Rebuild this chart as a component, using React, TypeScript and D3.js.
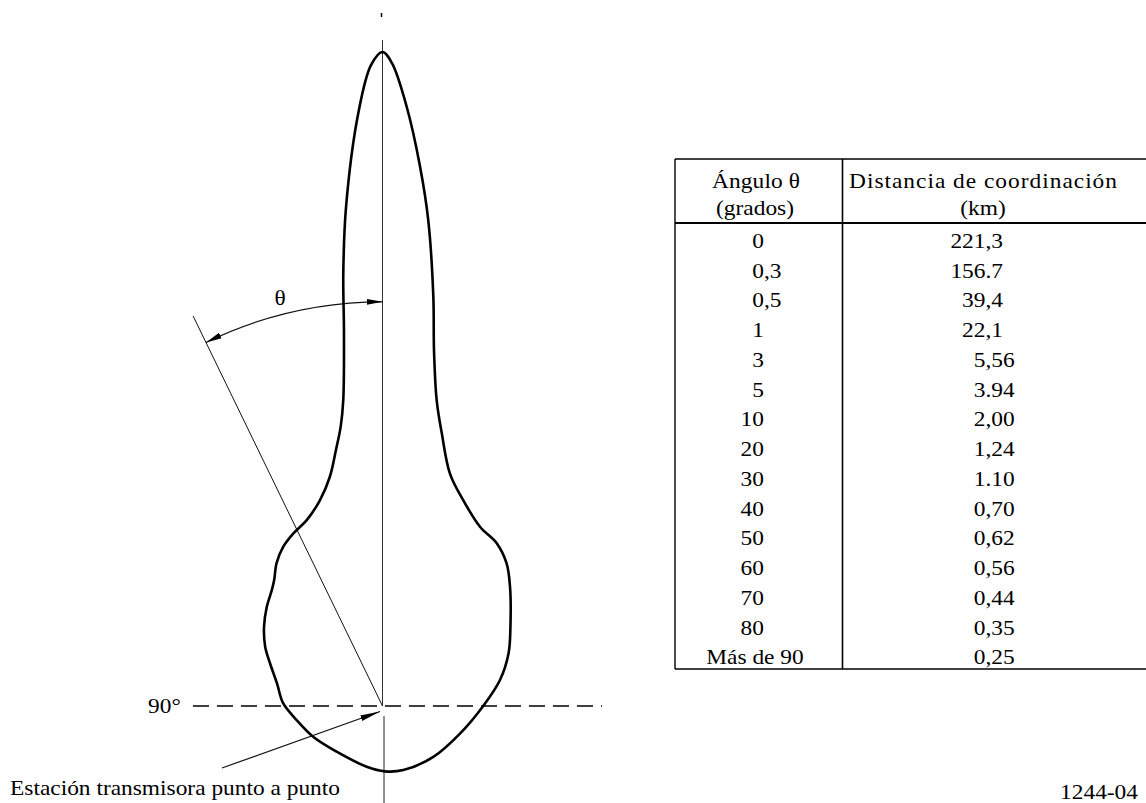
import React from "react";
import * as d3 from "d3";

// ---- Data ----
// Coordination contour: bearing (deg, clockwise from the main-beam axis)
// and radius in relative drawing units (tip of the contour = 100).
const contourAngles = [
  0, 0.846, 2.312, 3.978, 5.383, 7.075, 8.231, 10.04, 12.25,
  16.18, 21.42, 28.54, 35.07, 41.04, 46.9, 58.26, 67.27, 77.52, 90, 109.4, 135.05, 162.0,
  177.8, 194.6, 225.1, 246.1, 260.7, 271.6, 282.1, 290.8, 296.8, 303.8, 310.6, 316.3, 319.3,
  323.45, 328.1, 332.7, 337.83, 343.12, 347.1, 349.7, 351.49, 352.7, 354.1, 354.82,
  355.82, 357.66, 358.97,
];
const contourRadii = [
  100, 98.3, 91.7, 82.7, 74.6, 63.1, 55.0, 47.5, 42.7,
  37.0, 33.8, 31.2, 30.4, 28.9, 26.7, 23.0, 20.9, 18.4, 15.4, 12.6, 11.0, 10.3,
  10.0, 9.6, 9.9, 11.6, 13.3, 15.2, 16.5, 18.4, 20.1, 21.8, 23.3, 24.5, 25.4,
  27.2, 28.7, 29.7, 30.7, 32.9, 36.0, 39.8, 43.2, 47.2, 57.3, 66.4,
  76.5, 90.7, 98.0,
];

// θ annotation (example bearing and the radii of its ray and arc, same units)
const thetaExample = -25.9;
const thetaRayLength = 66.3;
const thetaArcRadius = 61.8;

// Table
const tableHeaders = [
  ["Ángulo θ", "(grados)"],
  ["Distancia de coordinación", "(km)"],
];
const angleLabels = ["0", "0,3", "0,5", "1", "3", "5", "10", "20", "30", "40", "50", "60", "70", "80", "Más de 90"];
const distanceLabels = ["221,3", "156.7", "39,4", "22,1", "5,56", "3.94", "2,00", "1,24", "1.10", "0,70", "0,62", "0,56", "0,44", "0,35", "0,25"];

const horizonLabel = "90°";
const stationLabel = "Estación transmisora punto a punto";
const figureId = "1244-04";

// ---- Layout ----
const W = 1146;
const H = 803;
const O = { x: 382.5, y: 706 };
const SX = 1.17;
const FONT = "'Liberation Serif', 'Times New Roman', Times, serif";
const INK = "#000";

const rScale = d3.scaleLinear().domain([0, 100]).range([0, 654]);
const deg = (a: number) => (a * Math.PI) / 180;

type TProps = {
  x: number;
  y: number;
  anchor?: "start" | "middle" | "end";
  w?: number;
  size?: number;
  children: React.ReactNode;
};
const T = ({ x, y, anchor = "start", w, size = 20, children }: TProps) => (
  <text
    transform={`translate(${x},${y}) scale(${SX},1)`}
    textAnchor={anchor}
    fontSize={size}
    fontFamily={FONT}
    fill={INK}
    {...(w ? { textLength: w / SX, lengthAdjust: "spacing" } : {})}
  >
    {children}
  </text>
);

const Aligned = ({ label, alignX, y, centerX }: { label: string; alignX: number; y: number; centerX: number }) => {
  const m = label.match(/^(\d+)([,.]\d+)?$/);
  if (!m) return <T x={centerX} y={y} anchor="middle">{label}</T>;
  return (
    <g>
      <T x={alignX} y={y} anchor="end">{m[1]}</T>
      {m[2] ? <T x={alignX} y={y} anchor="start">{m[2]}</T> : null}
    </g>
  );
};

export default function App() {
  const pts: [number, number][] = contourAngles.map((a, i) => [a, contourRadii[i]]);
  const contour = d3
    .lineRadial<[number, number]>()
    .angle((d) => deg(d[0]))
    .radius((d) => rScale(d[1]))
    .curve(d3.curveCatmullRomClosed.alpha(0.5))(pts);

  const polar = (a: number, r: number) => [O.x + rScale(r) * Math.sin(deg(a)), O.y - rScale(r) * Math.cos(deg(a))];
  const [rayX, rayY] = polar(thetaExample, thetaRayLength);

  const arcPath = d3.path();
  const ra = rScale(thetaArcRadius);
  arcPath.arc(O.x, O.y, ra, deg(thetaExample) - Math.PI / 2, -Math.PI / 2, false);

  // table geometry
  const tLeft = 675;
  const tDiv = 842.5;
  const tRight = W;
  const tTop = 159;
  const tHead = 223;
  const tBottom = 669;
  const rows = d3.scaleBand<number>().domain(angleLabels.map((_, i) => i)).range([tHead, tBottom]);

  return (
    <svg
      width={W}
      height={H}
      viewBox={`0 0 ${W} ${H}`}
      style={{ position: "absolute", left: 0, top: 0, display: "block", background: "#fff" }}
    >
      <defs>
        <marker
          id="arrow"
          viewBox="0 0 16 8"
          refX={16}
          refY={4}
          markerWidth={16}
          markerHeight={8}
          markerUnits="userSpaceOnUse"
          orient="auto-start-reverse"
        >
          <path d="M0,1 L16,4 L0,7 Z" fill={INK} />
        </marker>
        <marker
          id="arrowBig"
          viewBox="0 0 20 8"
          refX={20}
          refY={4}
          markerWidth={20}
          markerHeight={8}
          markerUnits="userSpaceOnUse"
          orient="auto"
        >
          <path d="M0,1 L20,4 L0,7 Z" fill={INK} />
        </marker>
      </defs>
      <rect x={0} y={0} width={W} height={H} fill="#fff" />

      {/* axis of the main beam */}
      <line x1={O.x - 1} y1={13} x2={O.x - 1} y2={17} stroke={INK} strokeWidth={1.5} />
      <line x1={O.x} y1={40} x2={O.x} y2={O.y} stroke="#333" strokeWidth={1} />
      <line x1={O.x + 1.5} y1={O.y + 10} x2={O.x + 1.5} y2={H} stroke="#222" strokeWidth={1} />

      {/* 90° line */}
      <line x1={193} y1={O.y} x2={602} y2={O.y} stroke={INK} strokeWidth={1.6} strokeDasharray="16 8" />
      <T x={148} y={713}>{horizonLabel}</T>

      {/* θ ray and arc */}
      <line x1={O.x} y1={O.y} x2={rayX} y2={rayY} stroke="#111" strokeWidth={1} />
      <path d={arcPath.toString()} fill="none" stroke="#111" strokeWidth={1.2} markerStart="url(#arrow)" markerEnd="url(#arrow)" />
      <T x={280} y={305} anchor="middle">θ</T>

      {/* contour */}
      <path
        d={contour ?? ""}
        transform={`translate(${O.x},${O.y})`}
        fill="none"
        stroke={INK}
        strokeWidth={2.6}
        strokeLinejoin="round"
      />

      {/* station pointer */}
      <line x1={222} y1={768} x2={380} y2={711.5} stroke="#111" strokeWidth={1.2} markerEnd="url(#arrowBig)" />
      <T x={10} y={795} w={330}>{stationLabel}</T>

      {/* table */}
      <g stroke={INK} fill="none">
        <line x1={tLeft} y1={tTop} x2={tRight} y2={tTop} strokeWidth={1.4} />
        <line x1={tLeft} y1={tHead} x2={tRight} y2={tHead} strokeWidth={2} />
        <line x1={tLeft} y1={tBottom} x2={tRight} y2={tBottom} strokeWidth={1.6} />
        <line x1={tLeft} y1={tTop} x2={tLeft} y2={tBottom} strokeWidth={1.4} />
        <line x1={tDiv} y1={tTop} x2={tDiv} y2={tBottom} strokeWidth={1.6} />
      </g>
      <T x={756} y={188} anchor="middle" w={88}>{tableHeaders[0][0]}</T>
      <T x={755} y={215} anchor="middle">{tableHeaders[0][1]}</T>
      <T x={983} y={188} anchor="middle" w={268}>{tableHeaders[1][0]}</T>
      <T x={983} y={215} anchor="middle">{tableHeaders[1][1]}</T>
      {angleLabels.map((lab, i) => (
        <Aligned key={"a" + i} label={lab} alignX={764} centerX={755} y={(rows(i) ?? 0) + 25} />
      ))}
      {distanceLabels.map((lab, i) => (
        <Aligned key={"d" + i} label={lab} alignX={985.5} centerX={983} y={(rows(i) ?? 0) + 25} />
      ))}

      <T x={1138} y={799} anchor="end">{figureId}</T>
    </svg>
  );
}
